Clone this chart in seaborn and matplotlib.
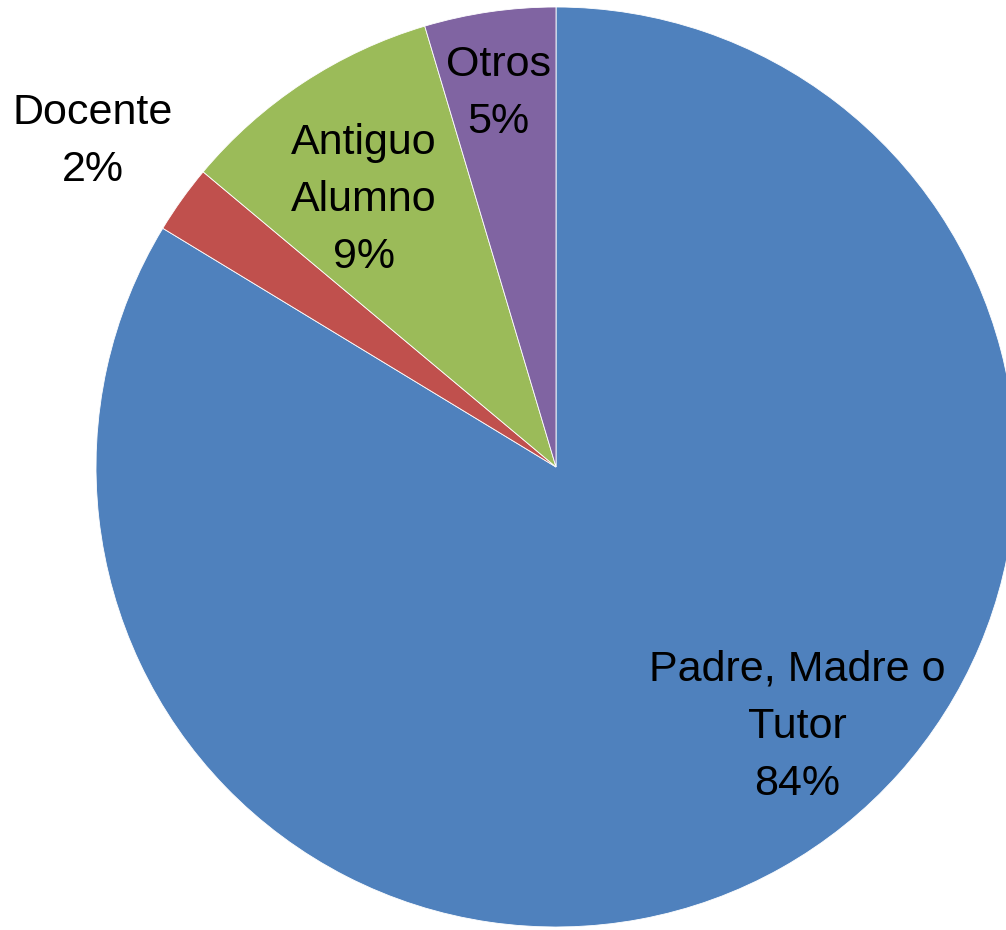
import seaborn as sns
import matplotlib
matplotlib.use('Agg')
import matplotlib.pyplot as plt

categories = ['Padre, Madre o\nTutor', 'Docente', 'Antiguo\nAlumno', 'Otros']
values = [83.6, 2.4, 9.3, 4.6]
pct_labels = ['84%', '2%', '9%', '5%']
colors = ['#4F81BD', '#C0504D', '#9BBB59', '#8064A2']

sns.set_theme(style='white')
plt.rcParams['font.family'] = ['Liberation Sans', 'DejaVu Sans']

fig = plt.figure(figsize=(10.06, 9.30), dpi=100)
# pie centre at (556, 467) px, radius 460 px
ax = fig.add_axes([96 / 1006, 3 / 930, 920 / 1006, 920 / 930])
ax.axis('off')

ax.pie(values, colors=sns.color_palette(colors), startangle=90, counterclock=False,
       radius=1, wedgeprops=dict(linewidth=0.6, edgecolor='white'))
ax.set_xlim(-1, 1)
ax.set_ylim(-1, 1)
ax.set_aspect('auto')

label_pos = [(0.524, -0.565), (-1.007, 0.707), (-0.417, 0.580), (-0.126, 0.811)]
for cat, pct, (x, y) in zip(categories, pct_labels, label_pos):
    ax.text(x, y, f'{cat}\n{pct}', ha='center', va='center', fontsize=31,
            linespacing=1.55, color='black', clip_on=False)

fig.savefig('out.png', dpi=100)
